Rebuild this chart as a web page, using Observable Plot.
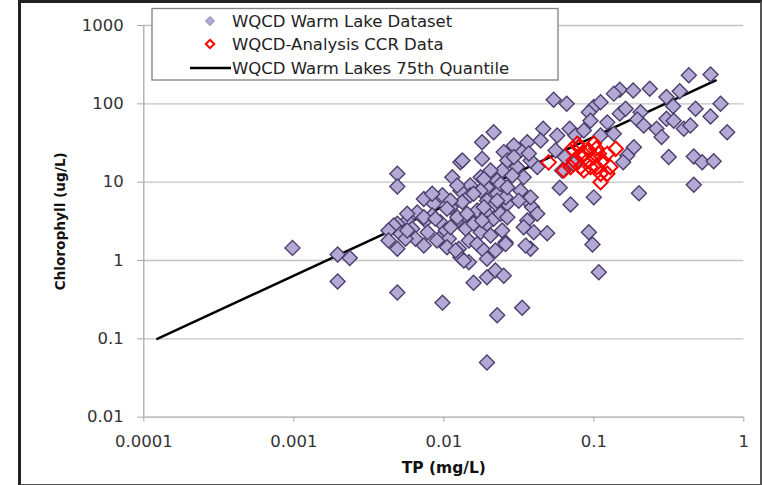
<!DOCTYPE html>
<html>
<head>
<meta charset="utf-8">
<script src="https://cdn.jsdelivr.net/npm/d3@7"></script>
<script src="https://cdn.jsdelivr.net/npm/@observablehq/plot@0.6"></script>
<style>
  html, body { margin: 0; padding: 0; background: #fff; }
  #wrap { position: relative; width: 762px; height: 485px; overflow: hidden; }
  #frame { position: absolute; left: 18px; top: 0px; width: 739px; height: 481px;
           border-top: 3px solid #222; border-left: 3px solid #222;
           border-right: 2px solid #555; border-bottom: 2px solid #555; pointer-events: none; }
  svg g[aria-label="x-axis tick"], svg g[aria-label="y-axis tick"] { stroke: #a6a6a6; }
</style>
</head>
<body>
<div id="wrap"><div id="frame"></div></div>
<script>
// WQCD Warm Lake Dataset: TP (mg/L) and Chlorophyll (ug/L)
const wqcdTP = [
  0.00098, 0.00196, 0.00236, 0.00196, 0.0049, 0.0098, 0.0049, 0.0049, 0.0049, 0.0129,
  0.0114, 0.0158, 0.43, 0.60, 0.054, 0.066, 0.149, 0.183, 0.236, 0.136,
  0.305, 0.374, 0.338, 0.477, 0.70, 0.60, 0.775, 0.1, 0.111, 0.0927,
  0.095, 0.123, 0.149, 0.163, 0.205, 0.195, 0.215, 0.262, 0.283, 0.305,
  0.341, 0.398, 0.44, 0.185, 0.167, 0.157, 0.316, 0.464, 0.528, 0.63,
  0.464, 0.2, 0.1, 0.070, 0.0593, 0.0927, 0.098, 0.108, 0.046, 0.057,
  0.069, 0.0755, 0.0858, 0.111, 0.136, 0.0442, 0.0556, 0.064, 0.0736, 0.0615,
  0.042, 0.0379, 0.0325, 0.036, 0.0293, 0.0251, 0.0215, 0.018, 0.018, 0.0133,
  0.0265, 0.0308, 0.0341, 0.0286, 0.0245, 0.0205, 0.0176, 0.0227, 0.0194, 0.015,
  0.0129, 0.0325, 0.036, 0.0265, 0.0388, 0.042, 0.036, 0.0341, 0.0398, 0.0489,
  0.0258, 0.0379, 0.0221, 0.0251, 0.0194, 0.0333, 0.0227, 0.0194, 0.00736, 0.0098,
  0.00858, 0.0111, 0.0133, 0.015, 0.0176, 0.0194, 0.0227, 0.0239, 0.0185, 0.00665,
  0.0057, 0.0049, 0.00514, 0.00616, 0.00755, 0.00837, 0.0095, 0.0078, 0.00648, 0.00556,
  0.00736, 0.0093, 0.0103, 0.0123, 0.0143, 0.0167, 0.0194, 0.0221, 0.0258, 0.014,
  0.0158, 0.0176, 0.0194, 0.0215, 0.0239, 0.0108, 0.0126, 0.0105, 0.0147, 0.0167,
  0.0185, 0.0129, 0.0147, 0.0194, 0.0221, 0.0258, 0.0057, 0.00837, 0.0111, 0.0057,
  0.009, 0.012, 0.0136, 0.00736, 0.0088, 0.0105, 0.0123, 0.0143, 0.0158, 0.00464,
  0.00428, 0.00428, 0.0123, 0.0293, 0.0265, 0.0379, 0.0316, 0.0227, 0.0185, 0.0265,
  0.018, 0.0111, 0.0205, 0.0245, 0.0351, 0.0369
];
const wqcdChl = [
  1.45, 1.19, 1.08, 0.54, 0.39, 0.29, 12.8, 8.8, 1.41, 18,
  11.6, 0.52, 231, 237, 113, 100, 151, 148, 156, 135,
  122, 145, 93, 86.5, 100, 69, 43.5, 91, 105, 78,
  61, 58, 75, 86.5, 78, 63, 53, 48, 37.6, 64.5,
  61, 48, 53, 28, 21.9, 18, 20.9, 21.3, 18, 18.5,
  9.3, 7.2, 6.4, 5.2, 8.5, 2.3, 1.6, 0.71, 48, 39.5,
  48, 39.5, 45.7, 39.5, 41.5, 34, 25.4, 20.9, 17.2, 14.1,
  15.6, 18.9, 25.4, 32.4, 29.4, 24.2, 43.5, 32.4, 19.9, 18.9,
  18.9, 15.6, 11.6, 12.2, 14.1, 14.1, 11.6, 10.5, 8.6, 9.1,
  7.8, 7.8, 5.8, 5.3, 4.8, 3.95, 3.24, 2.66, 2.3, 2.23,
  1.71, 1.41, 0.745, 0.64, 0.61, 0.25, 0.20, 0.050, 6.1, 6.8,
  5.3, 4.8, 5.6, 6.8, 7.8, 5.8, 7.1, 9.5, 11, 4.1,
  3.24, 2.94, 2.19, 2.54, 3.24, 3.76, 3.08, 2.3, 1.89, 1.89,
  1.55, 1.89, 2.42, 3.24, 3.57, 4.35, 3.95, 5.3, 6.4, 2.54,
  2.94, 2.3, 2.94, 3.41, 3.95, 1.89, 1.41, 1.48, 1.8, 1.63,
  1.34, 1.1, 0.95, 1.05, 1.34, 1.63, 3.95, 7.1, 5.8, 2.42,
  1.8, 1.34, 1.0, 3.57, 3.41, 4.57, 3.57, 3.95, 7.1, 2.8,
  2.42, 1.8, 9.1, 20.9, 8.6, 6.4, 5.8, 5.8, 4.8, 3.57,
  3.24, 2.66, 2.09, 2.42, 1.55, 23.3
];
// WQCD-Analysis CCR Data
const ccrTP = [
  0.050, 0.063, 0.0736, 0.0794, 0.0858, 0.0904, 0.0815, 0.1, 0.105, 0.114,
  0.123, 0.14, 0.129, 0.111, 0.123, 0.111, 0.0718, 0.0927, 0.095, 0.0858,
  0.108, 0.1, 0.0775, 0.070, 0.0838, 0.104
];
const ccrChl = [
  17.9, 14.1, 18.9, 28, 23, 18.9, 15.6, 20.9, 15.6, 18.9,
  23, 26.7, 15.6, 12.8, 12.8, 10, 26.7, 25.4, 15.6, 14.1,
  23, 30.9, 30.9, 15.6, 21.4, 27
];
// WQCD Warm Lakes 75th Quantile line
const quantTP = [0.000123, 0.65];
const quantChl = [0.1, 199];

const xTicks = [0.0001, 0.001, 0.01, 0.1, 1];
const xTickLabels = ["0.0001", "0.001", "0.01", "0.1", "1"];
const yTicks = [0.01, 0.1, 1, 10, 100, 1000];
const yTickLabels = ["0.01", "0.1", "1", "10", "100", "1000"];
const gridY = [0.1, 1, 10, 100, 1000];

const legendLabels = ["WQCD Warm Lake Dataset", "WQCD-Analysis CCR Data", "WQCD Warm Lakes 75th Quantile"];

const wqcd = wqcdTP.map((x, i) => ({x, y: wqcdChl[i]}));
const ccr = ccrTP.map((x, i) => ({x, y: ccrChl[i]}));
const quant = quantTP.map((x, i) => ({x, y: quantChl[i]}));

const purpleFill = "#b4a8d4";
const purpleStroke = "#4b3f6e";

const chart = Plot.plot({
  width: 762,
  height: 485,
  marginLeft: 143.3,
  marginRight: 18.7,
  marginTop: 25,
  marginBottom: 68.3,
  style: {fontFamily: "DejaVu Sans", fontSize: "16.5px", color: "#333", background: "transparent"},
  x: {type: "log", domain: [0.0001, 1], ticks: xTicks, tickFormat: d => xTickLabels[xTicks.indexOf(d)],
      tickSize: 5, tickPadding: 13, label: null},
  y: {type: "log", domain: [0.01, 1000], ticks: yTicks, tickFormat: d => yTickLabels[yTicks.indexOf(d)],
      tickSize: 6, tickPadding: 14, label: null},
  marks: [
    Plot.ruleY(gridY, {stroke: "#c3c3c3", strokeWidth: 1.3}),
    Plot.ruleX([0.0001], {stroke: "#a6a6a6", strokeWidth: 1.2}),
    Plot.ruleY([0.01], {stroke: "#a6a6a6", strokeWidth: 1.2}),
    Plot.line(quant, {x: "x", y: "y", stroke: "#000", strokeWidth: 2.5}),
    Plot.dot(wqcd, {x: "x", y: "y", symbol: "diamond2", r: 6.75, fill: purpleFill, stroke: purpleStroke, strokeWidth: 1.4}),
    Plot.dot(ccr, {x: "x", y: "y", symbol: "diamond2", r: 6.5, fill: "none", stroke: "#ff0000", strokeWidth: 2}),
    Plot.text(["Chlorophyll (ug/L)"], {frameAnchor: "left", dx: -83, rotate: -90, textAnchor: "middle", lineAnchor: "middle",
      fontWeight: "bold", fontSize: 13.7, fill: "#111"}),
    Plot.text(["TP (mg/L)"], {frameAnchor: "bottom", dy: 51, textAnchor: "middle", lineAnchor: "middle",
      fontWeight: "bold", fontSize: 15.5, fill: "#111"})
  ]
});

const svg = d3.select(chart);
const lg = svg.append("g").attr("font-family", "DejaVu Sans").attr("font-size", 16.5)
  .attr("fill", "#222").attr("text-anchor", "start");
lg.append("rect").attr("x", 152).attr("y", 8.5).attr("width", 406).attr("height", 71.5)
  .attr("fill", "#fff").attr("stroke", "#7f7f7f").attr("stroke-width", 1.3);
const rows = [21, 44, 68];
const dpath = (cx, cy, h) => `M${cx},${cy - h}L${cx + h},${cy}L${cx},${cy + h}L${cx - h},${cy}Z`;
lg.append("path").attr("d", dpath(210, rows[0], 4.5)).attr("fill", purpleFill).attr("stroke", "#8a80a8").attr("stroke-width", 1);
lg.append("path").attr("d", dpath(210, rows[1], 4.2)).attr("fill", "#fff").attr("stroke", "#ff0000").attr("stroke-width", 2);
lg.append("line").attr("x1", 190).attr("x2", 231).attr("y1", rows[2]).attr("y2", rows[2]).attr("stroke", "#000").attr("stroke-width", 2.5);
legendLabels.forEach((t, i) => {
  lg.append("text").attr("x", 232).attr("y", rows[i]).attr("dy", "0.36em").attr("text-anchor", "start").text(t);
});

document.getElementById("wrap").prepend(chart);
</script>
</body>
</html>
